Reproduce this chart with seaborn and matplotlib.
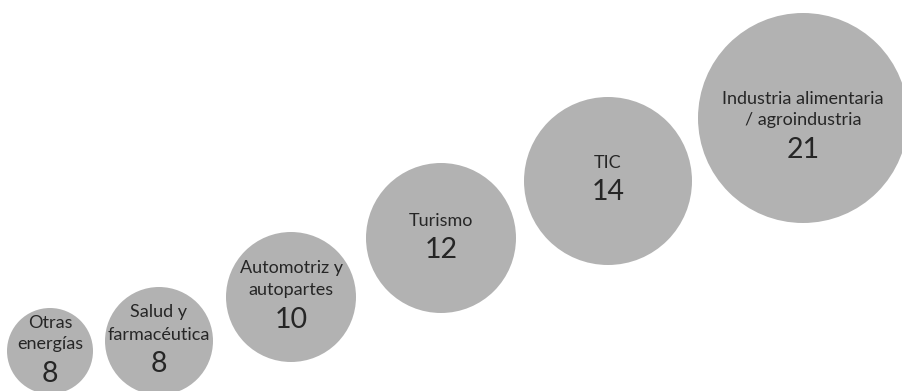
import matplotlib
matplotlib.use("Agg")
import matplotlib.pyplot as plt
import seaborn as sns
import pandas as pd

# Sector names and number of projects per sector
sectors = [
    "Otras\nenergías",
    "Salud y\nfarmacéutica",
    "Automotriz y\nautopartes",
    "Turismo",
    "TIC",
    "Industria alimentaria\n/ agroindustria",
]
counts = [8, 8, 10, 12, 14, 21]

# Bubble layout (canvas units, y grows downward) and bubble diameters
layout_x = [50, 159, 291, 441, 608, 803]
layout_y = [351, 341, 297, 238, 181, 118]
diameter = [86, 108, 130, 150, 168, 210]
label_shift = [0, 0, 0, 0, 0, 9]

W, H, DPI = 902, 391, 100
BUBBLE = "#b2b2b2"
INK = "#262626"

sns.set_theme(style="white")
plt.rcParams["font.family"] = ["Lato", "DejaVu Sans"]

df = pd.DataFrame({
    "sector": sectors,
    "count": counts,
    "x": layout_x,
    "y": layout_y,
    "d": diameter,
})
# marker area in points^2 so that the drawn diameter equals d canvas units
df["area"] = (df["d"] * 72.0 / DPI) ** 2

fig = plt.figure(figsize=(W / DPI, H / DPI), dpi=DPI)
ax = fig.add_axes([0, 0, 1, 1])

sns.scatterplot(
    data=df, x="x", y="y", size="area",
    sizes=(df["area"].min(), df["area"].max()),
    color=BUBBLE, linewidth=0, alpha=1, legend=False, ax=ax,
)

line_gap = 22   # distance between name lines
num_gap = 29    # distance from last name line to the number
for (_, r), shift in zip(df.iterrows(), label_shift):
    n = r["sector"].count("\n") + 1
    block = (n - 1) * line_gap + num_gap
    top = r["y"] - 3 + shift - block / 2
    for i, line in enumerate(r["sector"].split("\n")):
        ax.text(r["x"], top + i * line_gap, line, ha="center", va="center",
                fontsize=13, fontweight="normal", color=INK, zorder=5)
    ax.text(r["x"], top + (n - 1) * line_gap + num_gap, str(r["count"]),
            ha="center", va="center", fontsize=20.5, fontweight="normal",
            color=INK, zorder=5)

ax.set_xlim(0, W)
ax.set_ylim(H, 0)
ax.set_axis_off()

fig.savefig("out.png", dpi=DPI, facecolor="white")
